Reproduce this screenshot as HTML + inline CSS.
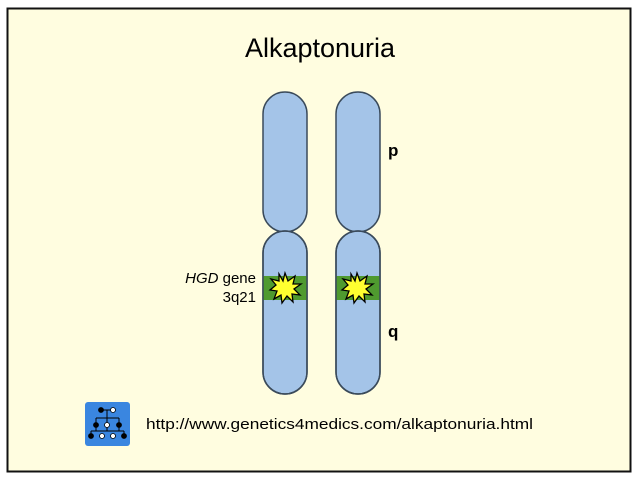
<!DOCTYPE html>
<html><head><meta charset="utf-8"><style>
html,body{margin:0;padding:0;background:#fff;}
svg{display:block;}
</style></head><body>
<svg width="640" height="480" viewBox="0 0 640 480" xmlns="http://www.w3.org/2000/svg" font-family="Liberation Sans, sans-serif">
<rect x="0" y="0" width="640" height="480" fill="#ffffff"/>
<rect x="7.5" y="8.5" width="623" height="463" fill="#fffde0" stroke="#111" stroke-width="2"/>
<text x="320" y="57" font-size="27" text-anchor="middle" fill="#000">Alkaptonuria</text>
<defs>
<clipPath id="q1"><rect x="263" y="231" width="44" height="163" rx="22"/></clipPath>
<clipPath id="q2"><rect x="336" y="231" width="44" height="163" rx="22"/></clipPath>
</defs>
<g fill="#a4c4e8" stroke="#3a4a5a" stroke-width="1.5">
<rect x="263" y="92" width="44" height="140" rx="22"/>
<rect x="336" y="92" width="44" height="140" rx="22"/>
<rect x="263" y="231" width="44" height="163" rx="22"/>
<rect x="336" y="231" width="44" height="163" rx="22"/>
</g>
<rect x="263" y="276" width="44" height="24" fill="#4f9a2f" clip-path="url(#q1)"/>
<rect x="336" y="276" width="44" height="24" fill="#4f9a2f" clip-path="url(#q2)"/>
<g fill="none" stroke="#3a4a5a" stroke-width="1.5">
<rect x="263" y="231" width="44" height="163" rx="22"/>
<rect x="336" y="231" width="44" height="163" rx="22"/>
</g>
<g fill="#ffff30" stroke="#000" stroke-width="1.3">
<polygon transform="translate(285,288)" points="0,-15 3,-7 10,-12 8,-4 16,-4 9,1 15,7 7,6 8,14 2,8 -3,15 -4,7 -11,11 -8,3 -15,2 -9,-3 -14,-9 -6,-7 -6,-14 -2,-7"/>
<polygon transform="translate(357,288)" points="0,-15 3,-7 10,-12 8,-4 16,-4 9,1 15,7 7,6 8,14 2,8 -3,15 -4,7 -11,11 -8,3 -15,2 -9,-3 -14,-9 -6,-7 -6,-14 -2,-7"/>
</g>
<text x="256" y="283" font-size="15" text-anchor="end"><tspan font-style="italic">HGD</tspan> gene</text>
<text x="256" y="302" font-size="15" text-anchor="end">3q21</text>
<text x="388" y="156" font-size="17" font-weight="bold">p</text>
<text x="388" y="337" font-size="17" font-weight="bold">q</text>
<rect x="85" y="402" width="45" height="44" rx="3" fill="#3a86e0"/>
<g stroke="#000" stroke-width="1" fill="none">
<line x1="101" y1="410" x2="113" y2="410"/>
<line x1="107" y1="410" x2="107" y2="418"/>
<line x1="96" y1="418" x2="119" y2="418"/>
<line x1="96" y1="418" x2="96" y2="431"/><line x1="119" y1="418" x2="119" y2="431"/>
<line x1="107" y1="418" x2="107" y2="431"/>
<line x1="91" y1="431" x2="124" y2="431"/>
<line x1="91" y1="431" x2="91" y2="436"/><line x1="124" y1="431" x2="124" y2="436"/>
</g>
<g stroke="#000" stroke-width="0.8">
<circle cx="101" cy="410" r="2.5" fill="#000"/><circle cx="113" cy="410" r="2.5" fill="#fff"/>
<circle cx="96" cy="425" r="2.5" fill="#000"/><circle cx="107" cy="425" r="2.5" fill="#fff"/><circle cx="119" cy="425" r="2.5" fill="#000"/>
<circle cx="91" cy="436" r="2.5" fill="#000"/><circle cx="102" cy="436" r="2.5" fill="#fff"/><circle cx="113" cy="436" r="2.5" fill="#fff"/><circle cx="124" cy="436" r="2.5" fill="#000"/>
</g>
<text x="146" y="429" font-size="15" textLength="387" lengthAdjust="spacingAndGlyphs">http://www.genetics4medics.com/alkaptonuria.html</text>
</svg>
</body></html>
